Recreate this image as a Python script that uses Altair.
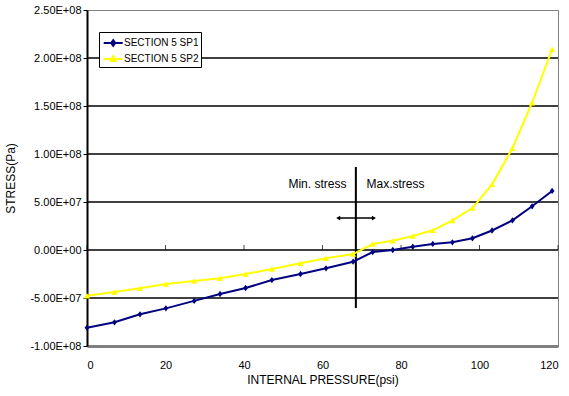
import altair as alt
import pandas as pd

FONT = "Liberation Sans, Arial, sans-serif"

# ---------------- data ----------------
series_names = ["SECTION 5 SP1", "SECTION 5 SP2"]
series_colors = ["#000080", "#FFFF00"]

pressure = [0, 7.0, 13.5, 20.1, 27.3, 33.9, 40.4, 47.1, 54.4, 60.9, 67.8,
            72.8, 77.9, 83.0, 88.1, 93.1, 98.2, 103.2, 108.4, 113.4, 118.5]
stress_sp1 = [-80.9e6, -75.3e6, -67.0e6, -60.8e6, -53.0e6, -45.8e6, -39.6e6,
              -31.3e6, -25.0e6, -19.1e6, -12.2e6, -2.1e6, 0.0, 3.4e6, 6.3e6,
              8.0e6, 12.2e6, 20.3e6, 30.8e6, 45.5e6, 61.5e6]
stress_sp2 = [-47.6e6, -43.8e6, -39.9e6, -35.4e6, -32.3e6, -29.5e6, -25.0e6,
              -19.8e6, -13.9e6, -8.7e6, -4.2e6, 6.3e6, 9.7e6, 14.6e6, 20.5e6,
              30.8e6, 43.7e6, 68.4e6, 106.0e6, 153.4e6, 209.0e6]

x_ticks = [0, 20, 40, 60, 80, 100, 120]
y_ticks = [-1.0e8, -5.0e7, 0.0, 5.0e7, 1.0e8, 1.5e8, 2.0e8, 2.5e8]
y_tick_labels = ["-1.00E+08", "-5.00E+07", "0.00E+00", "5.00E+07",
                 "1.00E+08", "1.50E+08", "2.00E+08", "2.50E+08"]
grid_values = [-5.0e7, 0.0, 5.0e7, 1.0e8, 1.5e8, 2.0e8]

# annotation: boundary between min / max stress
boundary_x = [68.5]
boundary_top = [8.65e7]
boundary_bottom = [-6.04e7]
arrow_left = [64.0]
arrow_right = [73.1]
arrow_y = [3.33e7]
annot_text = ["Min. stress", "Max.stress"]
annot_x = [58.7, 78.6]
annot_y = [6.875e7, 6.875e7]

# legend symbols: line with marker
legend_paths = [
    "M-0.79,0H1.59M0.4,-0.35L0.65,0L0.4,0.35L0.15,0Z",
    "M-0.79,0H1.59M0.4,-0.35L0.7,0.25L0.1,0.25Z",
]

# ---------------- tables ----------------
rows = []
for name, ys in zip(series_names, [stress_sp1, stress_sp2]):
    for p, s in zip(pressure, ys):
        rows.append({"series": name, "pressure": p, "stress": s})
df = pd.DataFrame(rows)

XT = "INTERNAL PRESSURE(psi)"
YT = "STRESS(Pa)"
xscale = alt.Scale(domain=[0, 120], nice=False, zero=False)
yscale = alt.Scale(domain=[-1.0e8, 2.5e8], nice=False, zero=False)

label_expr = "''"
for v, lab in zip(y_ticks, y_tick_labels):
    label_expr = f"datum.value == {v!r} ? '{lab}' : ({label_expr})"

x_axis = alt.Axis(values=x_ticks, ticks=False, grid=False, domain=True,
                  domainColor="#808080", domainWidth=3, labelPadding=13,
                  labelFontSize=11, labelFont=FONT, labelColor="black",
                  titleFontSize=12, titleFont=FONT, titleFontWeight="normal",
                  titleColor="black", titlePadding=4)
y_axis = alt.Axis(values=y_ticks, labelExpr=label_expr, grid=False,
                  domain=True, domainColor="black", domainWidth=2,
                  ticks=True, tickSize=4, tickColor="black", tickWidth=1,
                  labelPadding=2, labelFontSize=11, labelFont=FONT,
                  labelColor="black", titleFontSize=12, titleFont=FONT,
                  titleFontWeight="normal", titleColor="black",
                  titlePadding=12)

X = lambda f: alt.X(f, type="quantitative", scale=xscale, axis=x_axis, title=XT)
Y = lambda f: alt.Y(f, type="quantitative", scale=yscale, axis=y_axis, title=YT)

grid = alt.Chart(pd.DataFrame({"g": grid_values})).mark_rule(
    color="black", strokeWidth=1.6).encode(y=Y("g"))

xtick = alt.Chart(pd.DataFrame({"t": x_ticks, "z": [0.0] * len(x_ticks)})).mark_tick(
    orient="vertical", size=5, thickness=1, color="black", yOffset=-2.5
).encode(x=X("t"), y=Y("z"))

bdf = pd.DataFrame({"x": boundary_x, "y1": boundary_top, "y2": boundary_bottom})
boundary = alt.Chart(bdf).mark_rule(color="black", strokeWidth=2).encode(
    x=X("x"), y=Y("y1"), y2="y2")

adf = pd.DataFrame({"x1": arrow_left, "x2": arrow_right, "y": arrow_y})
arrow = alt.Chart(adf).mark_rule(color="black", strokeWidth=1.5).encode(
    x=X("x1"), x2="x2", y=Y("y"))
head_l = alt.Chart(adf).mark_point(shape="triangle-left", filled=True, size=22,
                                   color="black", opacity=1).encode(x=X("x1"), y=Y("y"))
head_r = alt.Chart(adf).mark_point(shape="triangle-right", filled=True, size=22,
                                   color="black", opacity=1).encode(x=X("x2"), y=Y("y"))

tdf = pd.DataFrame({"text": annot_text, "x": annot_x, "y": annot_y})
texts = alt.Chart(tdf).mark_text(fontSize=12, font=FONT, color="black",
                                 align="center", baseline="middle").encode(
    x=X("x"), y=Y("y"), text="text:N")

# data-driven domains (sorted names) so these scales stay apart from the legend's
stroke_enc = alt.Stroke("series:N", scale=alt.Scale(range=series_colors), legend=None)
fill_enc = alt.Fill("series:N", scale=alt.Scale(range=series_colors), legend=None)

lines = alt.Chart(df).mark_line(strokeWidth=2).encode(
    x=X("pressure"), y=Y("stress"), stroke=stroke_enc, detail="series:N")

pts1 = alt.Chart(df).transform_filter(
    alt.datum.series == series_names[0]).mark_point(
    shape="M0,-1L0.75,0L0,1L-0.75,0Z", filled=True, size=40, opacity=1).encode(
    x=X("pressure"), y=Y("stress"), fill=fill_enc)
pts2 = alt.Chart(df).transform_filter(
    alt.datum.series == series_names[1]).mark_point(
    shape="triangle-up", filled=True, size=40, opacity=1).encode(
    x=X("pressure"), y=Y("stress"), fill=fill_enc)

leg_props = dict(title=None, orient="none", legendX=12, legendY=22,
                 strokeColor="black", fillColor="white", padding=2,
                 rowPadding=0, symbolSize=256, symbolStrokeWidth=2,
                 symbolOpacity=1, labelOffset=5, labelFontSize=10,
                 labelFont=FONT, labelColor="black", labelLimit=200)
legend_layer = alt.Chart(pd.DataFrame({"series": series_names})).mark_point(
    filled=False, strokeWidth=2, size=256).encode(
    color=alt.Color("series:N", scale=alt.Scale(domain=series_names, range=series_colors),
                    legend=alt.Legend(**leg_props)),
    shape=alt.Shape("series:N", scale=alt.Scale(domain=series_names, range=legend_paths),
                    legend=alt.Legend(**leg_props)),
    opacity=alt.value(0),
)

chart = alt.layer(
    grid, xtick, boundary, arrow, head_l, head_r, texts,
    lines, pts1, pts2, legend_layer
).properties(
    width=471, height=336,
    autosize=alt.AutoSizeParams(type="none"),
    padding={"left": 87, "top": 10, "right": 11, "bottom": 50},
    background="white",
).configure_view(stroke="#808080", strokeWidth=1)

chart.save("out.html", embed_options={"renderer": "svg", "actions": False})
